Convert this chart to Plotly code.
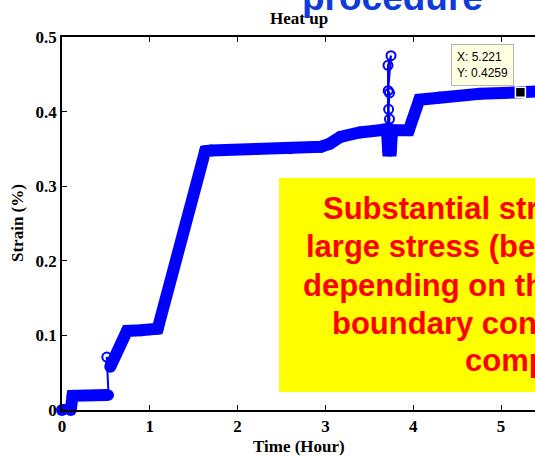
import plotly.graph_objects as go

# Strain history during heat-up (hours, percent strain)
time_h = [0.00, 0.10, 0.12, 0.51, None, 0.55, 0.74, 0.90, 1.09, 1.63, 1.70, 2.20, 2.60,
          2.95, 3.05, 3.17, 3.39, 3.66, 3.70, 3.715, 3.745, 3.76, 3.95, 4.07, 4.30,
          4.76, 5.221, 5.40]
strain = [0.000, 0.000, 0.019, 0.020, None, 0.058, 0.106, 0.107, 0.109, 0.347, 0.348, 0.350,
          0.351, 0.353, 0.357, 0.366, 0.372, 0.376, 0.376, 0.348, 0.348, 0.375, 0.375,
          0.416, 0.419, 0.424, 0.4259, 0.427]

# Isolated readings that jump away from the main trend
spike_time = [0.53, 0.51, 0.55, None, 3.713, 3.713, 3.747, 3.715, 3.73, 3.72, 3.73, 3.72]
spike_strain = [0.020, 0.071, 0.060, None, 0.378, 0.462, 0.475, 0.428, 0.425, 0.403, 0.390, 0.376]

# Data cursor
tip_x = 5.221
tip_y = 0.4259

x_ticks = [0, 1, 2, 3, 4, 5]
y_ticks = [0, 0.1, 0.2, 0.3, 0.4, 0.5]
y_ticktext = ["0", "0.1", "0.2", "0.3", "0.4", "0.5"]

note_lines = [
    "Substantial strain under",
    "large stress (beyond",
    "depending on the",
    "boundary condition",
    "compaction",
]

W, H = 535, 457
ML, MR, MT, MB = 62, 0, 37, 47
PX_PER_HOUR = 87.8
x_max = (W - ML - MR) / PX_PER_HOUR

def px(xp):
    return (xp - ML) / (W - ML - MR)

def py(yp):
    return (H - MB - yp) / (H - MB - MT)

blue = "#0000FF"
serif = "Liberation Serif"
sans = "Liberation Sans"

fig = go.Figure()

fig.add_trace(go.Scatter(
    x=time_h, y=strain, mode="lines+markers",
    line=dict(color=blue, width=12),
    marker=dict(symbol="circle", size=12, color=blue),
    cliponaxis=False, hoverinfo="skip", showlegend=False,
))

fig.add_trace(go.Scatter(
    x=spike_time, y=spike_strain, mode="lines+markers",
    line=dict(color=blue, width=2),
    marker=dict(symbol="circle-open", size=9, color=blue, line=dict(width=2, color=blue)),
    cliponaxis=False, hoverinfo="skip", showlegend=False,
))

fig.add_trace(go.Scatter(
    x=[tip_x], y=[tip_y], mode="markers",
    marker=dict(symbol="square", size=10, color="black", line=dict(width=1.5, color="white")),
    cliponaxis=False, hoverinfo="skip", showlegend=False,
))

annotations = [
    dict(x=tip_x, y=tip_y, xref="x", yref="y", showarrow=False,
         text=f"X: {tip_x}<br>Y: {tip_y}", align="left",
         xanchor="right", yanchor="bottom", xshift=-6, yshift=6,
         bgcolor="#FFFFE1", bordercolor="#B4B4B4", borderwidth=1, borderpad=5,
         font=dict(family=sans, size=12, color="black")),
    dict(x=px(299), y=py(19), xref="paper", yref="paper", showarrow=False,
         text="Heat up", xanchor="center", yanchor="middle",
         font=dict(family=serif, size=17, color="black", weight="bold")),
    dict(x=px(299), y=py(446), xref="paper", yref="paper", showarrow=False,
         text="Time (Hour)", xanchor="center", yanchor="middle",
         font=dict(family=serif, size=17, color="black", weight="bold")),
    dict(x=px(17), y=py(223), xref="paper", yref="paper", showarrow=False,
         text="Strain (%)", textangle=-90, xanchor="center", yanchor="middle",
         font=dict(family=serif, size=17, color="black", weight="bold")),
    dict(x=px(300), y=py(-2), xref="paper", yref="paper", showarrow=False,
         text="procedure", xanchor="left", yanchor="middle",
         font=dict(family=sans, size=37, color="#0F3CD8", weight="bold")),
]

starts = [321, 304, 301, 330, 463]
baselines = [218, 257, 295, 333, 370]
for line, x0, yb in zip(note_lines, starts, baselines):
    annotations.append(dict(
        x=px(x0), y=py(yb - 10), xref="paper", yref="paper", showarrow=False,
        text=line, xanchor="left", yanchor="middle",
        font=dict(family=sans, size=31, color="#FF0000", weight="bold")))

fig.update_layout(
    width=W, height=H,
    margin=dict(l=ML, r=MR, t=MT, b=MB),
    paper_bgcolor="white", plot_bgcolor="white",
    annotations=annotations,
    shapes=[dict(type="rect", xref="paper", yref="paper",
                 x0=px(279), x1=1.2, y0=py(392), y1=py(178),
                 fillcolor="#FFFF00", line=dict(width=0), layer="above")],
    xaxis=dict(range=[0, x_max], tickvals=x_ticks, ticks="inside", ticklen=5,
               tickcolor="black", tickwidth=1, showline=True, linecolor="black",
               linewidth=1.5, mirror="ticks", showgrid=False, zeroline=False,
               tickfont=dict(family=serif, size=17, color="black", weight="bold")),
    yaxis=dict(range=[0, 0.5], tickvals=y_ticks, ticktext=y_ticktext, ticks="inside",
               ticklen=5, tickcolor="black", tickwidth=1, showline=True,
               linecolor="black", linewidth=1.5, showgrid=False, zeroline=False,
               tickfont=dict(family=serif, size=17, color="black", weight="bold")),
)

fig.write_html("out.html")
